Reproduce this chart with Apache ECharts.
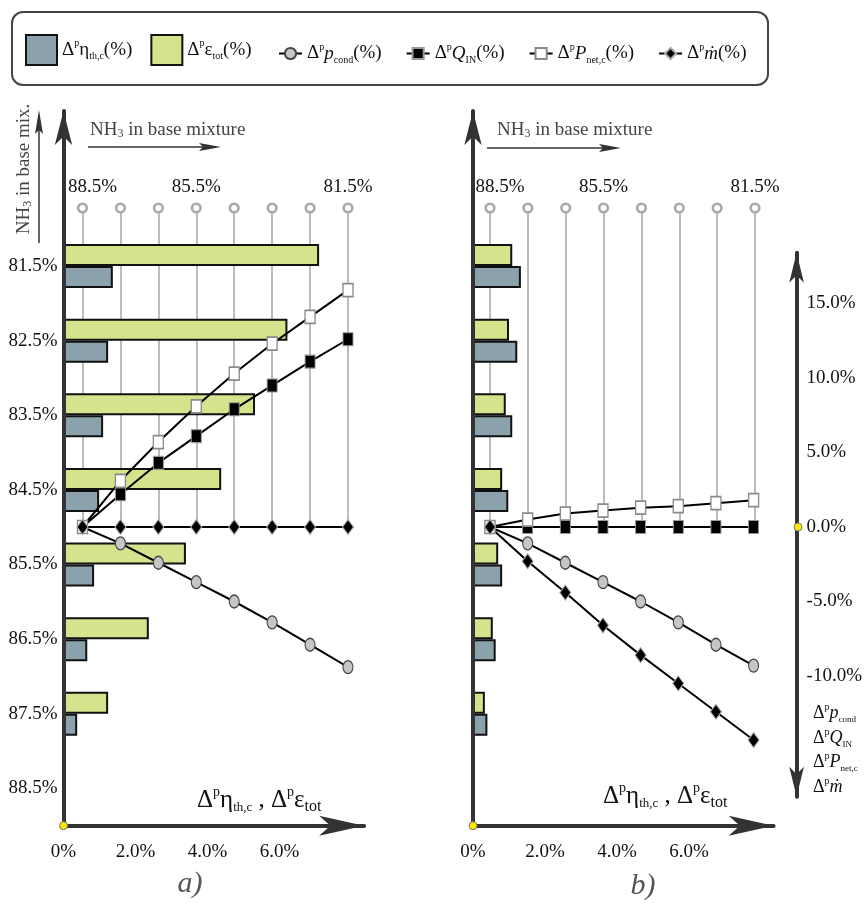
<!DOCTYPE html>
<html><head><meta charset="utf-8">
<script src="https://cdn.jsdelivr.net/npm/echarts@6/dist/echarts.min.js"></script>
<style>html,body{margin:0;padding:0;background:#fff}#c{width:865px;height:905px}</style>
</head><body><div id="c"></div>
<script>
// ---------- data ----------
const nh3 = ['88.5%','87.5%','86.5%','85.5%','84.5%','83.5%','82.5%','81.5%'];
const topLabels = ['88.5%','85.5%','81.5%'];
const xTicks = [0, 2, 4, 6];
const rightTicks = [15, 10, 5, 0, -5, -10];
// panel a)
const etaA   = [0, 0.38, 0.66, 0.85, 0.99, 1.10, 1.24, 1.37];
const epsA   = [0, 1.24, 2.37, 3.40, 4.38, 5.32, 6.22, 7.10];
const pcondA = [0, -1.1, -2.4, -3.7, -5.0, -6.4, -7.9, -9.4];
const qinA   = [0, 2.2, 4.3, 6.1, 7.9, 9.5, 11.1, 12.6];
const pnetA  = [0, 3.1, 5.7, 8.1, 10.3, 12.3, 14.1, 15.9];
const mdotA  = [0, 0, 0, 0, 0, 0, 0, 0];
// panel b)
const etaB   = [0, 0.40, 0.63, 0.81, 0.98, 1.09, 1.23, 1.33];
const epsB   = [0, 0.33, 0.55, 0.70, 0.81, 0.91, 1.00, 1.09];
const pcondB = [0, -1.1, -2.4, -3.7, -5.0, -6.4, -7.9, -9.3];
const qinB   = [0, 0, 0, 0, 0, 0, 0, 0];
const pnetB  = [0, 0.5, 0.9, 1.1, 1.3, 1.4, 1.6, 1.8];
const mdotB  = [0, -2.3, -4.4, -6.6, -8.6, -10.5, -12.4, -14.3];

// ---------- styling ----------
const SERIF = 'Liberation Serif';
const INK = '#333';
const TXT = '#111';
function richSet(size, color) {
  color = color || TXT;
  return {
    d:  {fontFamily: SERIF, fontSize: size, color, lineHeight: size + 4},
    i:  {fontFamily: SERIF, fontSize: size, fontStyle: 'italic', color, lineHeight: size + 4},
    sp: {fontFamily: SERIF, fontSize: Math.round(size * 0.55), color, lineHeight: Math.round(size * 0.45), verticalAlign: 'top'},
    sb: {fontFamily: SERIF, fontSize: Math.round(size * 0.5), color, lineHeight: Math.round(size * 0.55), verticalAlign: 'bottom'},
    sbb:{fontFamily: SERIF, fontSize: Math.round(size * 0.62), color, lineHeight: Math.round(size * 0.62), verticalAlign: 'bottom'}
  };
}
const legendText = {
  eta:   '{d|Δ}{sp|p}{d|η}{sb|th,c}{d|(%)}',
  eps:   '{d|Δ}{sp|p}{d|ε}{sb|tot}{d|(%)}',
  pcond: '{d|Δ}{sp|p}{i|p}{sb|cond}{d|(%)}',
  QIN:   '{d|Δ}{sp|p}{i|Q}{sb|IN}{d|(%)}',
  Pnet:  '{d|Δ}{sp|p}{i|P}{sb|net,c}{d|(%)}',
  mdot:  '{d|Δ}{sp|p}{i|ṁ}{d|(%)}'
};
const barColors = {eta: '#8ba2ad', eps: '#d4e38c'};
const lineLook = {
  pcond: {symbol: 'circle',  symbolSize: [10, 13], itemStyle: {color: '#c6c6c6', borderColor: '#444', borderWidth: 1.2}},
  QIN:   {symbol: 'rect',    symbolSize: [10, 13], itemStyle: {color: '#000', borderColor: '#9a9a9a', borderWidth: 1}},
  Pnet:  {symbol: 'rect',    symbolSize: [10, 13], itemStyle: {color: '#fff', borderColor: '#8a8a8a', borderWidth: 1.5}},
  mdot:  {symbol: 'diamond', symbolSize: [11, 15], itemStyle: {color: '#000', borderColor: '#aaa', borderWidth: 1}}
};

// ---------- layout (px) ----------
const PX_PER_PCT_X = 36;
const X_MAX = 8.35;
const BAR_TOP = 228.7, BAR_H = 597;
const ZERO_Y = 527, PX_PER_PCT_Y = 14.9;
const Y_MIN = -18.1, Y_MAX = 18.4;
const LINE_TOP = ZERO_Y - Y_MAX * PX_PER_PCT_Y, LINE_H = (Y_MAX - Y_MIN) * PX_PER_PCT_Y;
const STEM_TOP = 208;
const V_TOP = 111;
const panels = [
  {axisX: 63.5, lineLeft: 82.5, lineW: 265.5},
  {axisX: 473,  lineLeft: 490,  lineW: 265}
];

const grids = [], xAxes = [], yAxes = [], series = [];
function pctLabel(v) { return v === 0 ? '0%' : v.toFixed(1) + '%'; }

panels.forEach((p, k) => {
  // bars grid
  const gBar = grids.length;
  grids.push({left: p.axisX, top: BAR_TOP, width: X_MAX * PX_PER_PCT_X, height: BAR_H});
  xAxes.push({gridIndex: gBar, type: 'value', min: 0, max: X_MAX, interval: 2, z: 10,
    axisLine: {show: true, lineStyle: {color: INK, width: 4}, symbol: ['none', 'arrow'], symbolSize: [15, 45]},
    axisTick: {show: false}, splitLine: {show: false},
    axisLabel: {margin: 17, fontFamily: SERIF, fontSize: 19, color: TXT, showMaxLabel: false,
      formatter: v => xTicks.indexOf(v) >= 0 ? pctLabel(v) : ''}});
  yAxes.push({gridIndex: gBar, type: 'category', data: nh3,
    axisLine: {show: false}, axisTick: {show: false}, splitLine: {show: false},
    axisLabel: {show: k === 0, margin: 6, fontFamily: SERIF, fontSize: 19, color: TXT}});
  const bxi = xAxes.length - 1, byi = yAxes.length - 1;
  [['eps', k === 0 ? epsA : epsB], ['eta', k === 0 ? etaA : etaB]].forEach(([n, d]) => {
    series.push({type: 'bar', name: n, data: d, xAxisIndex: bxi, yAxisIndex: byi, barWidth: 22, barGap: '0%',
      itemStyle: {color: barColors[n], borderColor: '#111', borderWidth: 2}, z: 2, animation: false});
  });

  // stems grid
  const gStem = grids.length;
  grids.push({left: p.lineLeft, top: STEM_TOP, width: p.lineW, height: ZERO_Y - STEM_TOP});
  xAxes.push({gridIndex: gStem, type: 'category', data: nh3, boundaryGap: false, position: 'top',
    axisLine: {show: false}, axisTick: {show: false},
    splitLine: {show: true, lineStyle: {color: '#bcbcbc', width: 2}},
    axisLabel: {interval: 0, margin: 0, verticalAlign: 'middle', formatter: () => '{c| }',
      rich: {c: {width: 6, height: 6, borderRadius: 6, borderColor: '#a9a9a9', borderWidth: 2.6, backgroundColor: '#fff'}}}});
  xAxes.push({gridIndex: gStem, type: 'category', data: nh3, boundaryGap: false, position: 'top',
    axisLine: {show: false}, axisTick: {show: false}, splitLine: {show: false},
    axisLabel: {interval: 0, margin: 11, fontFamily: SERIF, fontSize: 19, color: TXT,
      formatter: (v, i) => topLabels.indexOf(v) < 0 ? '' : (i === 0 ? '{s|' + v + '}' : v),
      rich: {s: {fontFamily: SERIF, fontSize: 19, color: TXT, padding: [0, 0, 0, 20]}}}});
  yAxes.push({gridIndex: gStem, type: 'value', min: 0, max: 1, show: false});

  // line grid
  const gLine = grids.length;
  grids.push({left: p.lineLeft, top: LINE_TOP, width: p.lineW, height: LINE_H});
  xAxes.push({gridIndex: gLine, type: 'category', data: nh3, boundaryGap: false, show: false});
  if (k === 0) {
    yAxes.push({gridIndex: gLine, type: 'value', min: Y_MIN, max: Y_MAX, show: false});
  } else {
    yAxes.push({gridIndex: gLine, type: 'value', min: Y_MIN, max: Y_MAX, splitNumber: 7, position: 'right', offset: 43, z: 10,
      axisLine: {show: true, lineStyle: {color: INK, width: 4}, symbol: ['arrow', 'arrow'], symbolSize: [11, 30]},
      axisTick: {show: false}, splitLine: {show: false},
      axisLabel: {margin: 10, fontFamily: SERIF, fontSize: 19, color: TXT, showMinLabel: false, showMaxLabel: false,
        formatter: v => rightTicks.indexOf(v) >= 0 ? v.toFixed(1) + '%' : ''}});
  }
  const lxi = xAxes.length - 1, lyi = yAxes.length - 1;
  const ld = k === 0 ? {pcond: pcondA, QIN: qinA, Pnet: pnetA, mdot: mdotA} : {pcond: pcondB, QIN: qinB, Pnet: pnetB, mdot: mdotB};
  ['pcond', 'QIN', 'Pnet', 'mdot'].forEach(n => {
    series.push(Object.assign({type: 'line', name: n, data: ld[n], xAxisIndex: lxi, yAxisIndex: lyi,
      lineStyle: {color: '#000', width: 2}, showSymbol: true, z: 4, animation: false}, lineLook[n]));
  });

  // big vertical axis grid
  const gV = grids.length;
  grids.push({left: p.axisX, top: V_TOP, width: 10, height: BAR_TOP + BAR_H - V_TOP});
  xAxes.push({gridIndex: gV, type: 'value', show: false, min: 0, max: 1});
  yAxes.push({gridIndex: gV, type: 'value', min: 0, max: 1, z: 10,
    axisLine: {show: true, lineStyle: {color: INK, width: 4}, symbol: ['none', 'arrow'], symbolSize: [13, 34]},
    axisTick: {show: false}, axisLabel: {show: false}, splitLine: {show: false}});
});

// ---------- decorations ----------
function arrowRight(x1, x2, y) {
  return [{type: 'line', shape: {x1: x1, y1: y, x2: x2 - 10, y2: y}, style: {stroke: INK, lineWidth: 1.5}},
          {type: 'polygon', shape: {points: [[x2 - 22, y - 4], [x2, y], [x2 - 22, y + 4], [x2 - 18, y]]}, style: {fill: INK}}];
}
function arrowUp(x, y1, y2) {
  return [{type: 'line', shape: {x1: x, y1: y1, x2: x, y2: y2 + 10}, style: {stroke: INK, lineWidth: 1.5}},
          {type: 'polygon', shape: {points: [[x - 4, y2 + 24], [x, y2], [x + 4, y2 + 24], [x, y2 + 20]]}, style: {fill: INK}}];
}
function txt(x, y, text, size, opts) {
  opts = opts || {};
  return {type: 'text', x: x, y: y, rotation: opts.rotation || 0, z: 20,
    style: Object.assign({text: text, fontFamily: SERIF, fontSize: size, fill: opts.color || TXT,
      align: opts.align || 'left', verticalAlign: 'middle', rich: richSet(size, opts.color)}, opts.style || {})};
}
function dot(x, y) {
  return {type: 'circle', shape: {cx: x, cy: y, r: 4}, z: 30, style: {fill: '#ffe600', stroke: '#7a7a7a', lineWidth: 1}};
}
const nh3Text = 'NH{sbb|3} in base mixture';
const axisTitle = '{d|Δ}{sp|p}{d|η}{sb|th,c}{d| , Δ}{sp|p}{d|ε}{sbb|tot}';
const graphic = [
  {type: 'rect', shape: {x: 12, y: 12, width: 756, height: 73, r: 11}, style: {fill: 'none', stroke: '#444', lineWidth: 2}},
  txt(90, 130, nh3Text, 19, {color: '#444'}),
  ...arrowRight(88, 221, 147),
  txt(497, 130, nh3Text, 19, {color: '#444'}),
  ...arrowRight(487, 621, 148),
  txt(24, 169, 'NH{sbb|3} in base mix.', 19, {color: '#444', align: 'center', rotation: Math.PI / 2}),
  ...arrowUp(39, 243, 110),
  txt(197, 800, axisTitle, 25),
  txt(603, 796, axisTitle, 25),
  txt(190, 884, 'a)', 30, {color: '#555', align: 'center', style: {fontStyle: 'italic'}}),
  txt(643, 886, 'b)', 30, {color: '#555', align: 'center', style: {fontStyle: 'italic'}}),
  txt(813, 713, '{d|Δ}{sp|p}{i|p}{sb|cond}', 18),
  txt(813, 738, '{d|Δ}{sp|p}{i|Q}{sb|IN}', 18),
  txt(813, 762, '{d|Δ}{sp|p}{i|P}{sb|net,c}', 18),
  txt(813, 787, '{d|Δ}{sp|p}{i|ṁ}', 18),
  dot(63.5, BAR_TOP + BAR_H),
  dot(473, BAR_TOP + BAR_H),
  dot(798, ZERO_Y)
];

const legendCommon = {orient: 'horizontal', selectedMode: false, formatter: n => legendText[n],
  textStyle: {fontFamily: SERIF, fontSize: 19, color: TXT, rich: richSet(19)}};

const chart = echarts.init(document.getElementById('c'), null, {renderer: 'canvas'});
chart.setOption({
  animation: false,
  backgroundColor: '#fff',
  grid: grids, xAxis: xAxes, yAxis: yAxes, series: series,
  legend: [
    Object.assign({left: 20, top: 29, itemWidth: 31, itemHeight: 30, itemGap: 18, icon: 'rect',
      data: [{name: 'eta', itemStyle: {borderColor: '#111', borderWidth: 2}}, {name: 'eps', itemStyle: {borderColor: '#111', borderWidth: 2}}]}, legendCommon),
    Object.assign({left: 273, top: 37, itemWidth: 23, itemHeight: 14, itemGap: 24,
      data: ['pcond', 'QIN', 'Pnet', 'mdot']}, legendCommon)
  ],
  graphic: graphic
});
</script></body></html>
